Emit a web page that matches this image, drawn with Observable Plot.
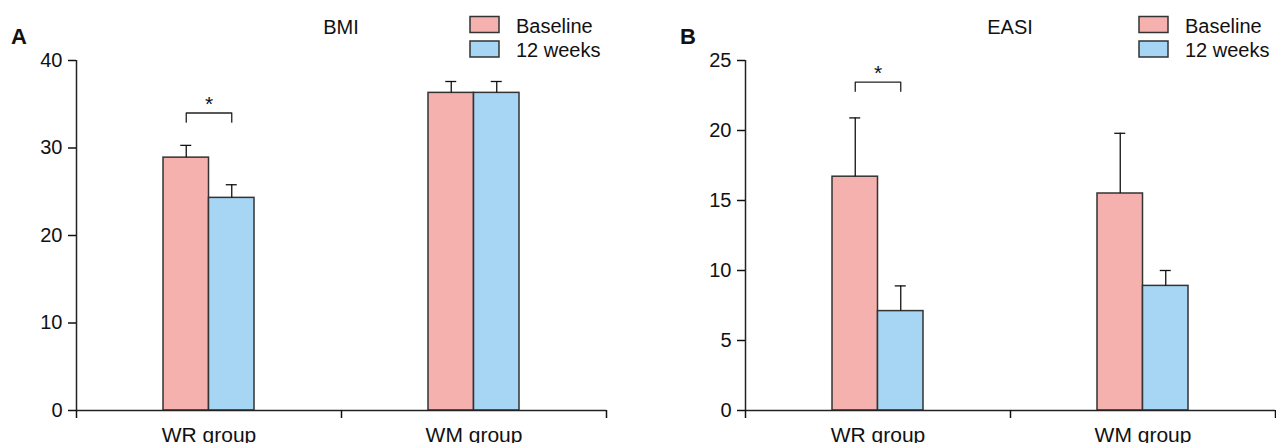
<!DOCTYPE html>
<html>
<head>
<meta charset="utf-8">
<script src="https://cdn.jsdelivr.net/npm/d3@7"></script>
<script src="https://cdn.jsdelivr.net/npm/@observablehq/plot@0.6"></script>
<style>
  html, body { margin: 0; padding: 0; background: #fff; }
  #wrap { position: relative; width: 1276px; height: 443px; overflow: hidden; font-family: "Liberation Sans", Arial, sans-serif; }
  .panel { position: absolute; top: 0; width: 607px; height: 443px; }
  .panel svg { overflow: visible; }
</style>
</head>
<body>
<div id="wrap"></div>
<script>
// ---- data ----
const groups = ["WR group", "WM group"];
const series = ["Baseline", "12 weeks"];
const seriesColors = ["#F4B1AE", "#A6D6F4"];

// Panel A: BMI
const bmiBaseline = [28.9, 36.3];
const bmiBaselineErr = [1.4, 1.3];
const bmiWeek12 = [24.3, 36.3];
const bmiWeek12Err = [1.5, 1.3];
const bmiTicks = [0, 10, 20, 30, 40];
// significance bracket for BMI (group, bracket foot, bracket top)
const bmiSigGroup = ["WR group"];
const bmiSigLow = [32.95];
const bmiSigHigh = [34.0];

// Panel B: EASI
const easiBaseline = [16.7, 15.5];
const easiBaselineErr = [4.2, 4.3];
const easiWeek12 = [7.1, 8.9];
const easiWeek12Err = [1.8, 1.1];
const easiTicks = [0, 5, 10, 15, 20, 25];
const easiSigGroup = ["WR group"];
const easiSigLow = [22.8];
const easiSigHigh = [23.45];

// ---- layout constants ----
const W = 607, H = 443;
const mL = 76, mR = 1, mT = 60, mB = 33;
const bandPx = (W - mL - mR) / 2;
const barPx = 45.5;
const bw = barPx / bandPx;          // bar width in x-domain units
const capHalf = 5.5 / bandPx;       // error cap half width
const FONT = "Liberation Sans, Arial, sans-serif";

function rowsOf(base, baseErr, wk, wkErr) {
  const vals = [base, wk], errs = [baseErr, wkErr];
  return groups.flatMap((g, gi) => series.map((s, si) => ({
    group: g, gi, series: s, si, value: vals[si][gi], err: errs[si][gi]
  })));
}
const barX1 = d => d.gi + 0.5 + (d.si === 0 ? -bw : 0);
const barX2 = d => d.gi + 0.5 + (d.si === 0 ? 0 : bw);
const barC = d => d.gi + 0.5 + (d.si === 0 ? -bw / 2 : bw / 2);

function panel(opts) {
  const rows = rowsOf(...opts.data);
  const ymax = opts.ticks[opts.ticks.length - 1];
  const sig = opts.sigGroup.map((g, i) => ({gi: groups.indexOf(g), low: opts.sigLow[i], high: opts.sigHigh[i]}));
  const bracket = sig.flatMap(s => [
    {k: 0, x: s.gi + 0.5 - bw / 2, y: s.low},
    {k: 0, x: s.gi + 0.5 - bw / 2, y: s.high},
    {k: 0, x: s.gi + 0.5 + bw / 2, y: s.high},
    {k: 0, x: s.gi + 0.5 + bw / 2, y: s.low}
  ]);
  const chart = Plot.plot({
    width: W, height: H,
    marginLeft: mL, marginRight: mR, marginTop: mT, marginBottom: mB,
    style: {fontFamily: FONT, fontSize: "20px", color: "#111", background: "transparent"},
    x: {domain: [0, 2], axis: null},
    y: {domain: [0, ymax], axis: null},
    color: {domain: series, range: seriesColors},
    marks: [
      Plot.rectY(rows, {x1: barX1, x2: barX2, y1: 0, y2: "value", fill: "series", stroke: "#333", strokeWidth: 1.5}),
      Plot.ruleX(rows, {x: barC, y1: "value", y2: d => d.value + d.err, stroke: "#111", strokeWidth: 1.3}),
      Plot.ruleY(rows, {y: d => d.value + d.err, x1: d => barC(d) - capHalf, x2: d => barC(d) + capHalf, stroke: "#111", strokeWidth: 1.3}),
      Plot.line(bracket, {x: "x", y: "y", z: "k", stroke: "#222", strokeWidth: 1.3}),
      Plot.text(sig, {x: d => d.gi + 0.5, y: "high", text: () => "*", dy: -9, fontSize: 21, fill: "#111"}),
      Plot.ruleY([0], {stroke: "#222", strokeWidth: 1.5}),
      Plot.ruleX([0], {stroke: "#222", strokeWidth: 1.5}),
      Plot.axisY({ticks: opts.ticks, tickSize: 8, tickPadding: 6, strokeWidth: 1.5, fontSize: 20, label: null, tickFormat: d => String(d)}),
      Plot.axisX({ticks: [0, 1, 2], tickSize: 8, label: null, tickFormat: () => "", strokeWidth: 1.5}),
      Plot.axisX({ticks: [0.5, 1.5], tickSize: 0, tickPadding: 17, fontSize: 21, label: null, tickFormat: d => groups[Math.floor(d)]})
    ]
  });
  const svg = d3.select(chart);
  // panel letter
  svg.append("text").attr("x", 11).attr("y", 44).attr("font-size", 22).attr("font-weight", "bold")
    .attr("text-anchor", "start").attr("font-family", FONT).attr("fill", "#111").text(opts.letter);
  // title
  svg.append("text").attr("x", mL + bandPx).attr("y", 33.5).attr("text-anchor", "middle").attr("font-size", 20)
    .attr("font-family", FONT).attr("fill", "#111").text(opts.title);
  // legend
  series.forEach((s, i) => {
    const top = 16.5 + i * 24.5;
    svg.append("rect").attr("x", 470).attr("y", top).attr("width", 29).attr("height", 16)
      .attr("fill", seriesColors[i]).attr("stroke", "#333").attr("stroke-width", 1.5);
    svg.append("text").attr("x", 516).attr("y", top + 16).attr("font-size", 20).attr("text-anchor", "start")
      .attr("font-family", FONT).attr("fill", "#111").text(s);
  });
  const div = document.createElement("div");
  div.className = "panel";
  div.style.left = opts.left + "px";
  div.appendChild(chart);
  document.getElementById("wrap").appendChild(div);
}

panel({letter: "A", title: "BMI", left: 0, ticks: bmiTicks,
  data: [bmiBaseline, bmiBaselineErr, bmiWeek12, bmiWeek12Err],
  sigGroup: bmiSigGroup, sigLow: bmiSigLow, sigHigh: bmiSigHigh});
panel({letter: "B", title: "EASI", left: 669, ticks: easiTicks,
  data: [easiBaseline, easiBaselineErr, easiWeek12, easiWeek12Err],
  sigGroup: easiSigGroup, sigLow: easiSigLow, sigHigh: easiSigHigh});
</script>
</body>
</html>
